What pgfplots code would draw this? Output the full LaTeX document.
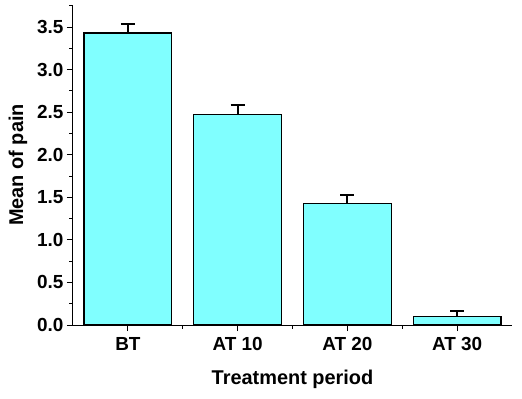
\documentclass[border=0pt]{standalone}
\usepackage{pgfplots}
\pgfplotsset{compat=1.18}
\usepackage{fontspec}
\setmainfont{Liberation Sans}
\definecolor{barcyan}{RGB}{128,255,255}
\pgfplotstableread{
x y e
0 3.43 0.11
1 2.47 0.12
2 1.43 0.10
3 0.10 0.06
}\datatable
\begin{document}
\begin{tikzpicture}
\begin{axis}[
  name=ax,
  scale only axis, width=439bp, height=320bp,
  xmin=-0.5, xmax=3.5, ymin=0, ymax=3.76,
  axis x line*=bottom, axis y line*=left,
  xtick={0,1,2,3}, xticklabels={BT,AT 10,AT 20,AT 30},
  minor xtick={0.5,1.5,2.5},
  ytick={0,0.5,...,3.5}, minor ytick={0.25,0.75,...,3.75},
  /pgf/number format/assume math mode=true,
  yticklabel style={/pgf/number format/.cd, fixed, fixed zerofill, precision=1},
  xticklabel style={yshift=-3bp},
  tick align=outside, major tick length=6bp, minor tick length=3.5bp,
  tick style={line width=1bp, black},
  ticklabel style={font=\bfseries\fontsize{19}{22}\selectfont},
  label style={font=\bfseries\fontsize{20}{23}\selectfont},
  xlabel={Treatment period}, ylabel={Mean of pain},
  xlabel style={yshift=-12bp},
  ylabel style={yshift=3bp},
  axis line style={line width=1bp},
]
\addplot[ybar, bar width=0.8, fill=barcyan, draw=black, line width=1.3bp,
  error bars/.cd, y dir=plus, y explicit,
  error bar style={line width=2bp, black},
  error mark options={rotate=90, line width=2bp, mark size=7bp, black}]
  table[x=x, y=y, y error=e]{\datatable};
\end{axis}
\pgfresetboundingbox
\path[use as bounding box] ([shift={(-73bp,-74bp)}]ax.south west) rectangle ++(522bp,399bp);
\end{tikzpicture}
\end{document}
